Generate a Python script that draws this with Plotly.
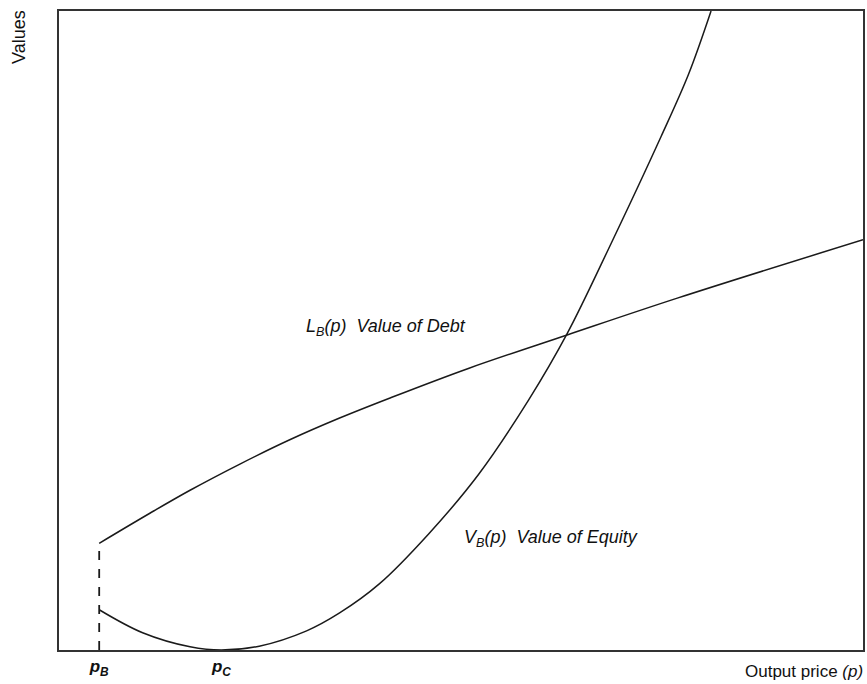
import plotly.graph_objects as go

# Output price grid (arbitrary units) and values
price_debt = [0.50, 1.13, 1.63, 2.25, 2.87, 3.49, 4.11, 5.10, 6.32, 7.70, 10.0]
debt_value = [1.67, 2.14, 2.50, 2.91, 3.29, 3.63, 3.94, 4.41, 4.93, 5.51, 6.42]

price_equity = [0.50, 1.04, 1.63, 2.02, 2.49, 3.08, 3.49, 3.98, 4.60, 5.22, 5.84, 6.32, 6.87, 7.49, 7.83, 8.11]
equity_value = [0.63, 0.27, 0.05, 0.00, 0.06, 0.30, 0.58, 1.03, 1.82, 2.75, 3.91, 4.95, 6.37, 8.04, 9.01, 10.0]

p_B = 0.50
p_C = 2.02
tick_vals = [p_B, p_C]
tick_text = ["<b><i>p</i></b><sub><b><i>B</i></b></sub>", "<b><i>p</i></b><sub><b><i>C</i></b></sub>"]

line_col = "#1a1a1a"
font_fam = "Liberation Sans, Arial, sans-serif"
txt_col = "#111"

fig = go.Figure()
fig.add_trace(go.Scatter(x=price_debt, y=debt_value, mode="lines",
                         line=dict(color=line_col, width=1.5, shape="spline"),
                         showlegend=False, hoverinfo="skip"))
fig.add_trace(go.Scatter(x=price_equity, y=equity_value, mode="lines",
                         line=dict(color=line_col, width=1.5, shape="spline"),
                         showlegend=False, hoverinfo="skip"))
fig.add_trace(go.Scatter(x=[p_B, p_B], y=[0, debt_value[0]], mode="lines",
                         line=dict(color=line_col, width=1.8, dash="dash"),
                         showlegend=False, hoverinfo="skip"))

fig.add_annotation(x=3.05, y=5.05, xref="x", yref="y", xanchor="left", yanchor="middle",
                   text="<i>L</i><sub><i>B</i></sub><i>(p)  Value of Debt</i>",
                   showarrow=False, font=dict(family=font_fam, size=18, color=txt_col))
fig.add_annotation(x=5.01, y=1.75, xref="x", yref="y", xanchor="left", yanchor="middle",
                   text="<i>V</i><sub><i>B</i></sub><i>(p)  Value of Equity</i>",
                   showarrow=False, font=dict(family=font_fam, size=18, color=txt_col))
fig.add_annotation(x=1.0025, y=-0.034, xref="paper", yref="paper", xanchor="right", yanchor="middle",
                   text="Output price <i>(p)</i>", showarrow=False,
                   font=dict(family=font_fam, size=17, color=txt_col))
fig.add_annotation(x=-0.0496, y=1.005, xref="paper", yref="paper", xanchor="center", yanchor="top",
                   text="Values", textangle=-90, showarrow=False,
                   font=dict(family=font_fam, size=18, color=txt_col))

fig.update_xaxes(range=[0, 10], tickvals=tick_vals, ticktext=tick_text, ticks="",
                 showgrid=False, zeroline=False, showline=True, linecolor="#333",
                 linewidth=1.5, mirror=True,
                 tickfont=dict(family=font_fam, size=17, color=txt_col))
fig.update_yaxes(range=[0, 10], showticklabels=False, ticks="", showgrid=False,
                 zeroline=False, showline=True, linecolor="#333", linewidth=1.5, mirror=True)

fig.update_layout(width=867, height=684, margin=dict(l=59, r=2, t=11, b=34),
                  plot_bgcolor="white", paper_bgcolor="white")

fig.write_html("out.html", config={"displayModeBar": False},
               post_script="document.body.style.margin='0';document.body.style.overflow='hidden';")
